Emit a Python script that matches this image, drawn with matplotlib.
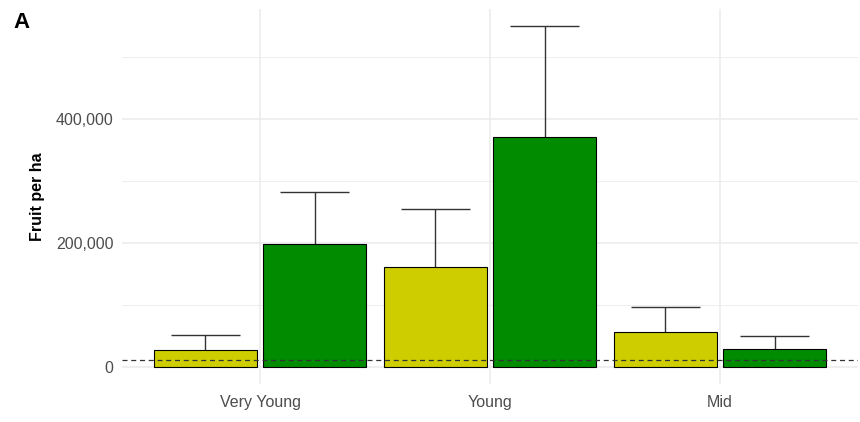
import numpy as np
import matplotlib.pyplot as plt

plt.rcParams['font.family'] = ['Liberation Sans', 'DejaVu Sans']

# Fruit yield per hectare by orchard age class
age_classes = ["Very Young", "Young", "Mid"]
treat_a = [27000, 161000, 56000]       # yellow bars
treat_a_upper = [50500, 255000, 97000]
treat_b = [198000, 371000, 28000]      # green bars
treat_b_upper = [282000, 549000, 49000]
threshold = 10000

col_a = "#CDCD00"
col_b = "#008B00"

fig = plt.figure(figsize=(8.6, 4.22), dpi=100)
ax = fig.add_axes([0.1419, 0.0908, 0.8558, 0.8872])

x = np.arange(1, len(age_classes) + 1)
dodge = 0.95 / 4
width = 0.45
cap = 0.3

for xs, means, uppers, col in [(x - dodge, treat_a, treat_a_upper, col_a),
                               (x + dodge, treat_b, treat_b_upper, col_b)]:
    ax.bar(xs, means, width=width, color=col, edgecolor="black",
           linewidth=0.8, zorder=3)
    ax.vlines(xs, means, uppers, color="#333333", linewidth=1.0, zorder=2)
    ax.hlines(uppers, xs - cap / 2, xs + cap / 2, color="#333333",
              linewidth=1.0, zorder=2)

ax.axhline(threshold, color="#333333", linestyle=(0, (4, 3)),
           linewidth=0.9, zorder=4)

# theme_minimal look
ymax = max(treat_b_upper)
ax.set_ylim(-0.05 * ymax, 1.05 * ymax)
ax.set_xlim(0.4, 3.6)
ax.set_xticks(x)
ax.set_xticklabels(age_classes)
ax.set_yticks([0, 200000, 400000])
ax.set_yticklabels(["0", "200,000", "400,000"])
ax.set_yticks([100000, 300000, 500000], minor=True)
ax.grid(True, which="major", color="#EBEBEB", linewidth=1.1, zorder=0)
ax.grid(True, which="minor", axis="y", color="#EBEBEB", linewidth=0.6, zorder=0)
ax.tick_params(axis="both", which="both", length=0, colors="#4D4D4D",
               labelsize=11.5, pad=6)
ax.tick_params(axis="x", pad=8)
for s in ax.spines.values():
    s.set_visible(False)

ax.set_ylabel("Fruit per ha", fontsize=11.5, fontweight="bold", labelpad=8)
fig.text(0.016, 0.972, "A", fontsize=16, fontweight="bold", va="top")

fig.savefig("out.png", dpi=100)
plt.close()
